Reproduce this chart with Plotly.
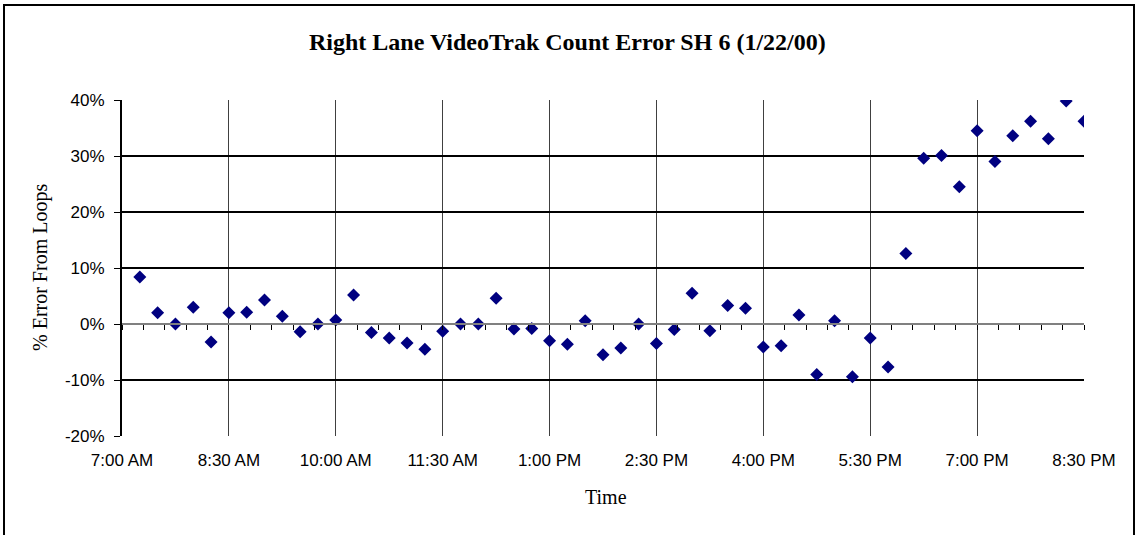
import plotly.graph_objects as go

times = ["07:15", "07:30", "07:45", "08:00", "08:15", "08:30", "08:45", "09:00", "09:15", "09:30",
         "09:45", "10:00", "10:15", "10:30", "10:45", "11:00", "11:15", "11:30", "11:45", "12:00",
         "12:15", "12:30", "12:45", "13:00", "13:15", "13:30", "13:45", "14:00", "14:15", "14:30",
         "14:45", "15:00", "15:15", "15:30", "15:45", "16:00", "16:15", "16:30", "16:45", "17:00",
         "17:15", "17:30", "17:45", "18:00", "18:15", "18:30", "18:45", "19:00", "19:15", "19:30",
         "19:45", "20:00", "20:15", "20:30"]
error_pct = [8.4, 2.0, 0.0, 3.0, -3.2, 2.0, 2.1, 4.3, 1.4, -1.4,
             0.0, 0.7, 5.2, -1.5, -2.5, -3.4, -4.5, -1.3, 0.0, 0.0,
             4.6, -0.9, -0.8, -3.0, -3.6, 0.6, -5.5, -4.3, 0.0, -3.5,
             -1.0, 5.5, -1.2, 3.3, 2.8, -4.1, -3.9, 1.6, -9.0, 0.6,
             -9.4, -2.5, -7.7, 12.6, 29.6, 30.1, 24.5, 34.5, 29.0, 33.6,
             36.2, 33.1, 39.8, 36.2]

y_tick_vals = [-20, -10, 0, 10, 20, 30, 40]
y_tick_text = ["-20%", "-10%", "0%", "10%", "20%", "30%", "40%"]

date = "2000-01-22 "
x_vals = [date + t for t in times]
x_range = [date + "07:00", date + "20:30"]
y_range = [-20, 40]

title_text = "Right Lane VideoTrak Count Error SH 6 (1/22/00)"
x_title = "Time"
y_title = "% Error From Loops"

fig = go.Figure()
fig.add_trace(go.Scatter(
    x=x_vals, y=error_pct, mode="markers",
    marker=dict(symbol="diamond", size=10, color="#000080", line=dict(width=0)),
    showlegend=False,
))
# invisible trace for the axis drawn at 0%
fig.add_trace(go.Scatter(x=x_range, y=[0, 0], mode="lines", line=dict(width=0),
                         xaxis="x2", yaxis="y", showlegend=False, hoverinfo="skip"))

L, R, T, B = 122, 51, 100, 99
W, H = 1135, 535
pw, ph = W - L - R, H - T - B

fig.update_layout(
    width=W, height=H,
    margin=dict(l=L, r=R, t=T, b=B),
    paper_bgcolor="white", plot_bgcolor="white",
    xaxis=dict(
        type="date", range=x_range, tick0=date + "07:00", dtick=90 * 60 * 1000,
        tickformat="%-I:%M %p", showgrid=True, gridcolor="#404040", gridwidth=1,
        showline=False, zeroline=False, ticks="", ticklabelstandoff=12,
        tickfont=dict(family="Liberation Sans, Arial", size=17, color="black"),
    ),
    xaxis2=dict(
        type="date", range=x_range, overlaying="x", anchor="free",
        position=(0 - y_range[0]) / (y_range[1] - y_range[0]),
        tick0=date + "07:00", dtick=18 * 60 * 1000, ticks="outside", ticklen=5,
        tickcolor="black", tickwidth=1, showticklabels=False, showgrid=False,
        showline=True, linecolor="#808080", linewidth=2, zeroline=False,
    ),
    yaxis=dict(
        range=y_range, tickmode="array", tickvals=y_tick_vals, ticktext=y_tick_text,
        showgrid=True, gridcolor="black",
        gridwidth=2, zeroline=False, showline=True, linecolor="black", linewidth=2,
        ticks="outside", ticklen=6, tickcolor="black", ticklabelstandoff=6,
        tickfont=dict(family="Liberation Sans, Arial", size=17, color="black"),
    ),
    annotations=[
        dict(text="<b>" + title_text + "</b>", xref="paper", yref="paper",
             x=(W / 2 - L) / pw, y=1 + (T - 42) / ph, showarrow=False,
             xanchor="center", yanchor="middle",
             font=dict(family="Liberation Serif, Times New Roman", size=24, color="black")),
        dict(text=x_title, xref="paper", yref="paper",
             x=(606 - L) / pw, y=-(497 - (H - B)) / ph, showarrow=False,
             xanchor="center", yanchor="middle",
             font=dict(family="Liberation Serif, Times New Roman", size=20, color="black")),
        dict(text=y_title, xref="paper", yref="paper", textangle=-90,
             x=(40 - L) / pw, y=0.5, showarrow=False,
             xanchor="center", yanchor="middle",
             font=dict(family="Liberation Serif, Times New Roman", size=20, color="black")),
    ],
    shapes=[
        dict(type="rect", xref="paper", yref="paper",
             x0=(4 - L) / pw, x1=(1134 - L) / pw, y0=-(545 - (H - B)) / ph, y1=1 + (T - 5) / ph,
             line=dict(color="black", width=2), fillcolor="rgba(0,0,0,0)", layer="below"),
    ],
)

fig.write_html("out.html", config={"displayModeBar": False},
               post_script="document.body.style.margin='0';document.body.style.overflow='hidden';")
